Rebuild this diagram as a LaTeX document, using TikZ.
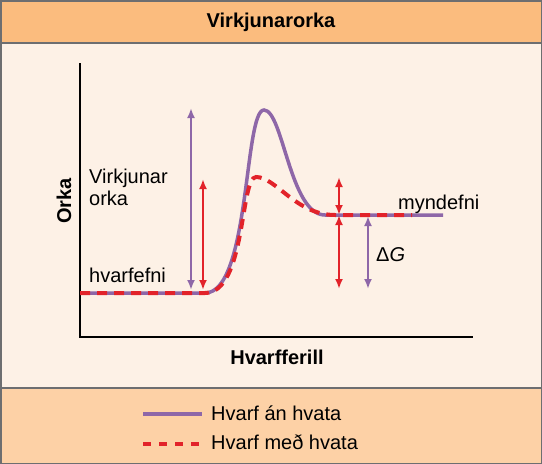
\documentclass[tikz,border=0pt]{standalone}
\usepackage{fontspec}
\setmainfont{Liberation Sans}
\usetikzlibrary{arrows.meta}
\definecolor{bandtop}{HTML}{FBBC7E}
\definecolor{bandmid}{HTML}{FDF1E6}
\definecolor{bandbot}{HTML}{FDD1A6}
\definecolor{rim}{HTML}{6D6E70}
\definecolor{plum}{HTML}{8E67A8}
\definecolor{hvatared}{HTML}{E2232A}
\tikzset{
    lbl/.style={font=\fontsize{20}{22}\selectfont,inner sep=0pt},
    boldlbl/.style={lbl,font=\fontsize{20}{22}\selectfont\bfseries},
    anhvata/.style={plum,line width=3.5pt},
    medhvata/.style={hvatared,line width=4pt,dash pattern=on 10pt off 7pt},
    orkuor/.style={line width=2.2pt,{Latex[length=10pt,width=8pt]}-{Latex[length=10pt,width=8pt]}}
}
\begin{document}
\begin{tikzpicture}[x=1pt,y=-1pt]
    \useasboundingbox (0,0) rectangle (542,464);
    % bands
    \fill[bandmid] (0,43) rectangle (542,388);
    \fill[bandtop] (0,0) rectangle (542,43);
    \fill[bandbot] (0,388) rectangle (542,464);
    \draw[rim,line width=2pt] (0,43) -- (542,43) (0,388) -- (542,388);
    \draw[rim,line width=3pt] (0,0) rectangle (542,464);
    \node[boldlbl] (titill) at (271,22) {Virkjunarorka};
    % axes
    \draw[line width=2pt] (79.5,63) -- (79.5,337) -- (473,337);
    \node[boldlbl,rotate=90] (yas) at (64,201) {Orka};
    \node[boldlbl] (xas) at (277,357) {Hvarfferill};
    % curves
    \draw[anhvata] (80,293) -- (205,293)
        .. controls (250,293) and (244,110) .. (264,110)
        .. controls (283,110) and (290,215) .. (325,215) -- (443,215);
    \draw[medhvata] (80,293) -- (205,293)
        .. controls (246,293) and (240,177) .. (256,177)
        .. controls (276,177) and (296,215) .. (335,215) -- (412,215);
    % energy arrows
    \coordinate (pTop) at (191,108);
    \coordinate (pBot) at (191,290);
    \coordinate (rTop) at (203,179);
    \coordinate (rBot) at (203,290);
    \draw[orkuor,plum] (pBot) -- (pTop);
    \draw[orkuor,hvatared] (rBot) -- (rTop);
    \coordinate (qTop) at (339,177);
    \coordinate (qMid) at (339,215);
    \coordinate (qBot) at (339,289);
    \coordinate (gTop) at (368,216);
    \coordinate (gBot) at (368,289);
    \draw[orkuor,hvatared] (qTop) -- (qMid);
    \draw[orkuor,hvatared] (qMid) -- (qBot);
    \draw[orkuor,plum] (gTop) -- (gBot);
    % labels
    \node[lbl,anchor=west,align=left] (virk) at (89,187) {Virkjunar\\orka};
    \node[lbl,anchor=west] (hvarf) at (89,275) {hvarfefni};
    \node[lbl,anchor=west] (mynd) at (398,204) {myndefni};
    \node[lbl,anchor=west] (dg) at (376,255) {Δ\textit{G}};
    % legend
    \node[lbl,anchor=west] (anlbl) at (211,413) {Hvarf án hvata};
    \node[lbl,anchor=west] (medlbl) at (211,442) {Hvarf með hvata};
    \draw[anhvata] (143,414) -- (202,414);
    \draw[hvatared,line width=4pt,dash pattern=on 8pt off 8pt] (143,443.5) -- (202,443.5);
\end{tikzpicture}
\end{document}
